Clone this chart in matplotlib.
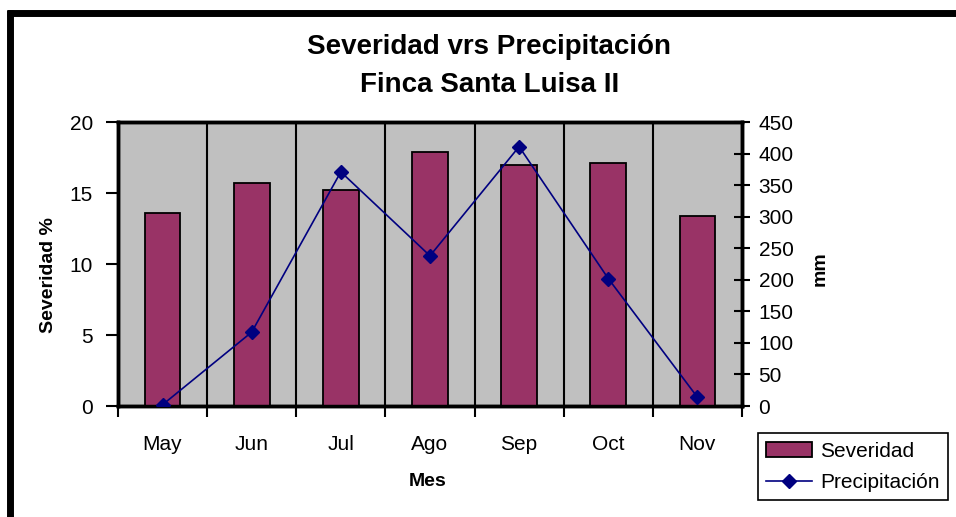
import numpy as np
import matplotlib
matplotlib.use("Agg")
import matplotlib.pyplot as plt
from matplotlib.lines import Line2D

plt.rcParams['font.family'] = ['Liberation Sans', 'DejaVu Sans']

meses = ["May", "Jun", "Jul", "Ago", "Sep", "Oct", "Nov"]
severidad = [13.6, 15.7, 15.2, 17.9, 17.0, 17.1, 13.4]
precipitacion = [2, 117, 371, 238, 411, 202, 14]

fig = plt.figure(figsize=(9.56, 5.17), dpi=100)
ax = fig.add_axes([0.1234, 0.2147, 0.6527, 0.5493])
ax2 = ax.twinx()

x = np.arange(len(meses))
bars = ax.bar(x, severidad, width=0.4, color="#993366",
              edgecolor="black", linewidth=1.3, zorder=3,
              label="Severidad")
ax.set_facecolor("#C0C0C0")
ax.set_xlim(-0.5, len(meses) - 0.5)
ax.set_ylim(0, 20)
ax.set_yticks(np.arange(0, 21, 5))

# month labels in the middle, tick marks and grid on the boundaries
ax.set_xticks(x)
ax.set_xticklabels(meses)
ax.set_xticks(np.arange(-0.5, len(meses)), minor=True)
ax.tick_params(axis="x", which="major", length=0, pad=21, labelsize=15)
ax.tick_params(axis="x", which="minor", length=8, width=1.5, direction="out")
ax.grid(True, axis="x", which="minor", color="black", linewidth=1.5, zorder=1)
ax.set_axisbelow(True)
ax.tick_params(axis="y", length=9, width=1.5, direction="out", pad=9,
               labelsize=15)

line, = ax2.plot(x, precipitacion, color="#000080", linewidth=1.2,
                 marker="D", markersize=7, label="Precipitación", zorder=4)
ax2.set_ylim(0, 450)
ax2.set_yticks(np.arange(0, 451, 50))
ax2.tick_params(axis="y", length=12, width=1.5, direction="inout", pad=6,
                labelsize=15)

for a in (ax, ax2):
    for s in a.spines.values():
        s.set_linewidth(2.5)
        s.set_color("black")

ax.set_ylabel("Severidad %", fontsize=14, fontweight="bold")
ax.yaxis.set_label_coords(-0.098, 0.46)
ax.set_xlabel("Mes", fontsize=14, fontweight="bold")
ax.xaxis.set_label_coords(0.497, -0.235)
ax2.set_ylabel("mm", fontsize=14, fontweight="bold")
ax2.yaxis.set_label_coords(1.112, 0.485)

fig.text(0.512, 0.909, "Severidad vrs Precipitación", ha="center",
         va="center", fontsize=20, fontweight="bold")
fig.text(0.512, 0.836, "Finca Santa Luisa II", ha="center",
         va="center", fontsize=20, fontweight="bold")

leg = ax.legend([bars, line], ["Severidad", "Precipitación"],
                loc="lower left", bbox_to_anchor=(0.782, 0.012),
                bbox_transform=fig.transFigure, fontsize=15,
                fancybox=False, framealpha=1, edgecolor="black",
                handlelength=2.2, handletextpad=0.4, borderpad=0.4,
                labelspacing=0.6)
leg.get_frame().set_linewidth(1.2)

# heavy frame along the top and left edges
fig.add_artist(Line2D([7 / 956, 1.0], [1 - 13 / 517, 1 - 13 / 517],
                      transform=fig.transFigure, color="black",
                      linewidth=5, solid_capstyle="butt"))
fig.add_artist(Line2D([10 / 956, 10 / 956], [0.0, 1 - 10 / 517],
                      transform=fig.transFigure, color="black",
                      linewidth=5, solid_capstyle="butt"))

fig.savefig("out.png", dpi=100)
